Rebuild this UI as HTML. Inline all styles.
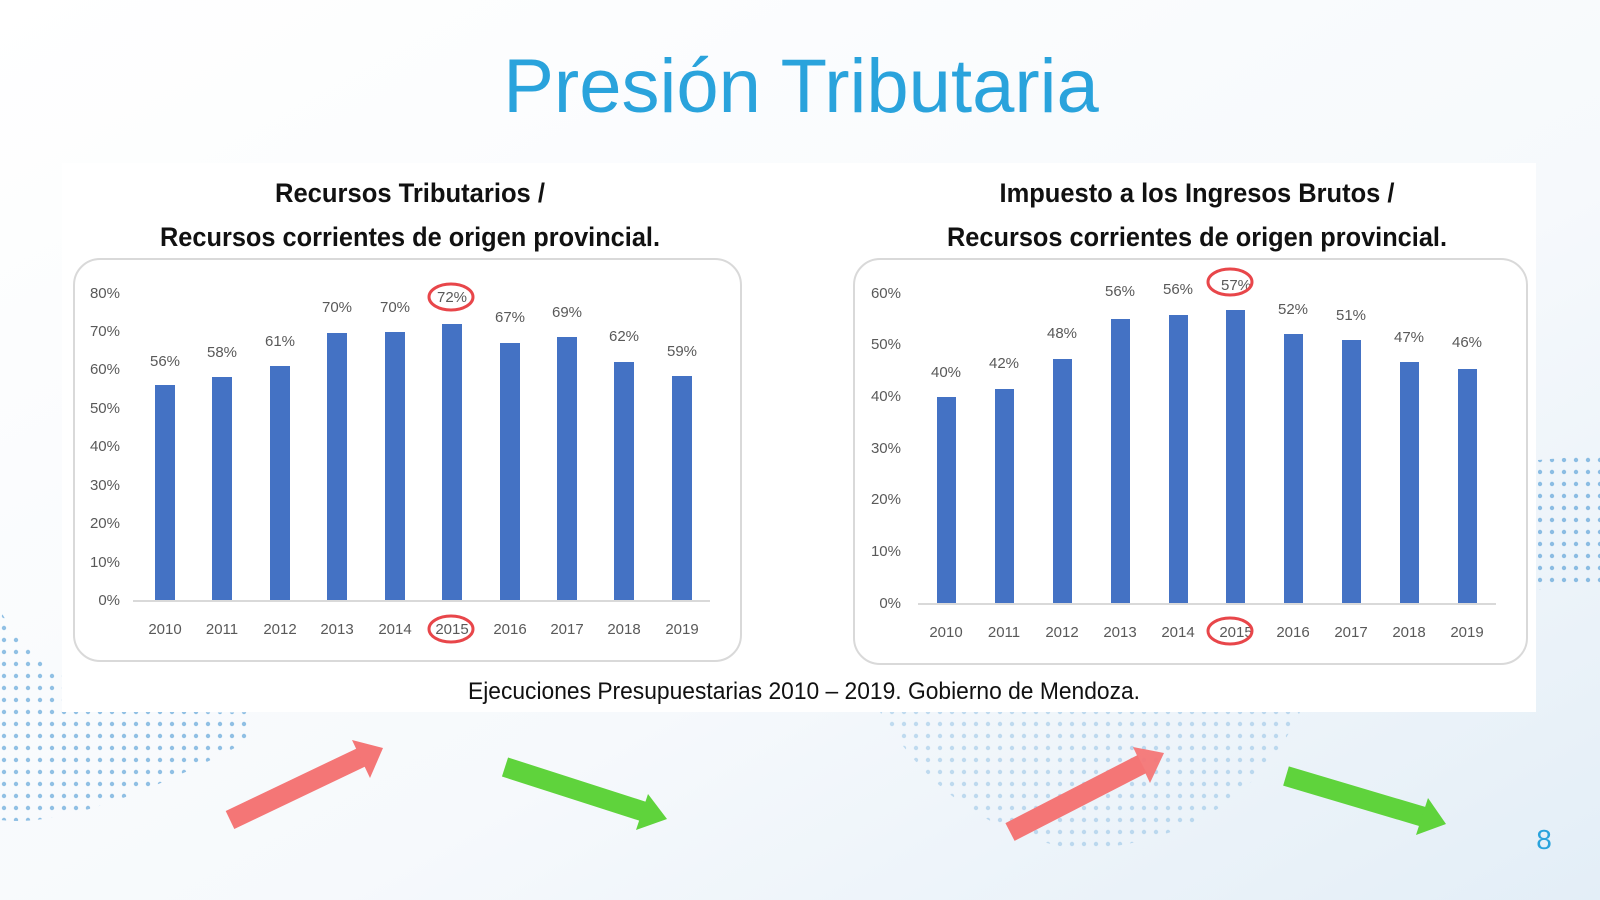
<!DOCTYPE html>
<html><head><meta charset="utf-8"><style>
html,body{margin:0;padding:0;width:1600px;height:900px;overflow:hidden}
svg{display:block}
text{font-family:"Liberation Sans",sans-serif}
</style></head><body>
<svg width="1600" height="900" viewBox="0 0 1600 900" xmlns="http://www.w3.org/2000/svg">
<defs>
<linearGradient id="bg" x1="0" y1="0" x2="1" y2="1">
<stop offset="0" stop-color="#ffffff"/><stop offset="0.6" stop-color="#f6f9fc"/><stop offset="1" stop-color="#e3eef7"/></linearGradient>
<pattern id="dots" width="12" height="12" patternUnits="userSpaceOnUse"><circle cx="4" cy="4" r="2.2" fill="#3a8fd0"/></pattern>
</defs>
<rect width="1600" height="900" fill="url(#bg)"/>
<g opacity="0.55">
<path d="M0 610 Q60 720 250 712 L250 740 Q80 830 0 820 Z" fill="url(#dots)"/>
<path d="M1538 460 L1600 455 L1600 585 L1538 590 Z" fill="url(#dots)"/>
<path d="M880 712 L1300 712 Q1240 840 1080 850 Q950 830 880 712 Z" fill="url(#dots)" opacity="0.5"/>
</g>
<text x="801" y="112" text-anchor="middle" font-size="76" fill="#2aa3dc">Presión Tributaria</text>
<rect x="62" y="163" width="1474" height="549" fill="#ffffff"/>
<g font-weight="bold" font-size="27" fill="#111" text-anchor="middle">
<text x="410" y="202" textLength="270" lengthAdjust="spacingAndGlyphs">Recursos Tributarios /</text>
<text x="410" y="246" textLength="500" lengthAdjust="spacingAndGlyphs">Recursos corrientes de origen provincial.</text>
<text x="1197" y="202" textLength="395" lengthAdjust="spacingAndGlyphs">Impuesto a los Ingresos Brutos /</text>
<text x="1197" y="246" textLength="500" lengthAdjust="spacingAndGlyphs">Recursos corrientes de origen provincial.</text>
</g>
<rect x="74" y="259" width="667" height="402" rx="26" fill="#fff" stroke="#d9d9d9" stroke-width="2"/>
<rect x="854" y="259" width="673" height="405" rx="26" fill="#fff" stroke="#d9d9d9" stroke-width="2"/>
<g font-size="15" fill="#595959">
<g text-anchor="end">
<text x="120" y="605">0%</text><text x="120" y="567">10%</text><text x="120" y="528">20%</text><text x="120" y="490">30%</text><text x="120" y="451">40%</text><text x="120" y="413">50%</text><text x="120" y="374">60%</text><text x="120" y="336">70%</text><text x="120" y="298">80%</text>
</g>
<line x1="133" y1="601" x2="710" y2="601" stroke="#d9d9d9" stroke-width="2"/>
<g fill="#4472c4">
<rect x="155" y="385" width="20" height="215"/>
<rect x="212" y="377" width="20" height="223"/>
<rect x="270" y="366" width="20" height="234"/>
<rect x="327" y="333" width="20" height="267"/>
<rect x="385" y="332" width="20" height="268"/>
<rect x="442" y="324" width="20" height="276"/>
<rect x="500" y="343" width="20" height="257"/>
<rect x="557" y="337" width="20" height="263"/>
<rect x="614" y="362" width="20" height="238"/>
<rect x="672" y="376" width="20" height="224"/>
</g>
<g text-anchor="middle">
<text x="165" y="366">56%</text><text x="222" y="357">58%</text><text x="280" y="346">61%</text><text x="337" y="312">70%</text><text x="395" y="312">70%</text><text x="452" y="302">72%</text><text x="510" y="322">67%</text><text x="567" y="317">69%</text><text x="624" y="341">62%</text><text x="682" y="356">59%</text>
<text x="165" y="634">2010</text><text x="222" y="634">2011</text><text x="280" y="634">2012</text><text x="337" y="634">2013</text><text x="395" y="634">2014</text><text x="452" y="634">2015</text><text x="510" y="634">2016</text><text x="567" y="634">2017</text><text x="624" y="634">2018</text><text x="682" y="634">2019</text>
</g>
</g>
<ellipse cx="451" cy="297" rx="22" ry="13" fill="none" stroke="#e8464a" stroke-width="3"/>
<ellipse cx="451" cy="629" rx="22" ry="13" fill="none" stroke="#e8464a" stroke-width="3"/>
<g font-size="15" fill="#595959">
<g text-anchor="end">
<text x="901" y="608">0%</text><text x="901" y="556">10%</text><text x="901" y="504">20%</text><text x="901" y="453">30%</text><text x="901" y="401">40%</text><text x="901" y="349">50%</text><text x="901" y="298">60%</text>
</g>
<line x1="918" y1="604" x2="1496" y2="604" stroke="#d9d9d9" stroke-width="2"/>
<g fill="#4472c4">
<rect x="937" y="397" width="19" height="206"/>
<rect x="995" y="389" width="19" height="214"/>
<rect x="1053" y="359" width="19" height="244"/>
<rect x="1111" y="319" width="19" height="284"/>
<rect x="1169" y="315" width="19" height="288"/>
<rect x="1226" y="310" width="19" height="293"/>
<rect x="1284" y="334" width="19" height="269"/>
<rect x="1342" y="340" width="19" height="263"/>
<rect x="1400" y="362" width="19" height="241"/>
<rect x="1458" y="369" width="19" height="234"/>
</g>
<g text-anchor="middle">
<text x="946" y="377">40%</text><text x="1004" y="368">42%</text><text x="1062" y="338">48%</text><text x="1120" y="296">56%</text><text x="1178" y="294">56%</text><text x="1236" y="290">57%</text><text x="1293" y="314">52%</text><text x="1351" y="320">51%</text><text x="1409" y="342">47%</text><text x="1467" y="347">46%</text>
<text x="946" y="637">2010</text><text x="1004" y="637">2011</text><text x="1062" y="637">2012</text><text x="1120" y="637">2013</text><text x="1178" y="637">2014</text><text x="1236" y="637">2015</text><text x="1293" y="637">2016</text><text x="1351" y="637">2017</text><text x="1409" y="637">2018</text><text x="1467" y="637">2019</text>
</g>
</g>
<ellipse cx="1230" cy="282" rx="22" ry="13" fill="none" stroke="#e8464a" stroke-width="3"/>
<ellipse cx="1230" cy="631" rx="22" ry="13" fill="none" stroke="#e8464a" stroke-width="3"/>
<text x="804" y="699" text-anchor="middle" font-size="24" fill="#111" textLength="672" lengthAdjust="spacingAndGlyphs">Ejecuciones Presupuestarias 2010 – 2019. Gobierno de Mendoza.</text>
<g stroke-linejoin="miter">
<line x1="230" y1="820" x2="362" y2="757" stroke="#f47676" stroke-width="20"/>
<polygon points="383,748 352,740 370,778" fill="#f47676"/>
<line x1="505" y1="767" x2="645" y2="812" stroke="#5fd33c" stroke-width="20"/>
<polygon points="667,819 648,794 636,830" fill="#5fd33c"/>
<line x1="1010" y1="832" x2="1142" y2="764" stroke="#f47676" stroke-width="20"/>
<polygon points="1164,753 1133,747 1150,783" fill="#f47676" opacity="0.95"/>
<line x1="1286" y1="776" x2="1424" y2="817" stroke="#5fd33c" stroke-width="20"/>
<polygon points="1446,824 1428,798 1416,835" fill="#5fd33c"/>
</g>
<text x="1544" y="849" text-anchor="middle" font-size="28" fill="#2aa3dc">8</text>
</svg>
</body></html>
